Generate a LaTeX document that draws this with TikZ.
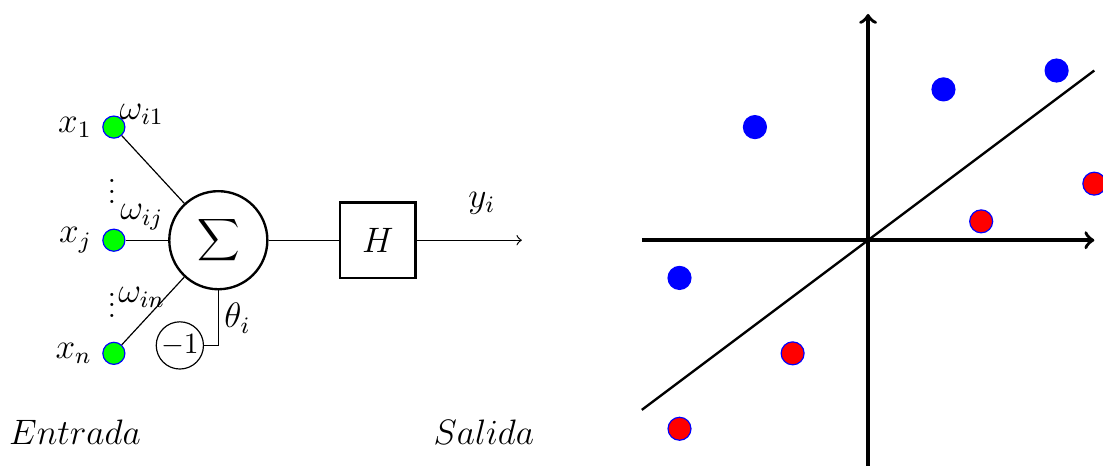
\documentclass[tikz,border=0pt]{standalone}
\usepackage{amsmath}
\usepackage{amssymb}
\usepackage{graphicx}
\usetikzlibrary{arrows,positioning}

\begin{document}
\begin{tikzpicture}[
    x=0.45cm, y=0.45cm,
    every node/.style={font=\large},
    inp/.style={circle, draw=blue, fill=green, minimum size=7.5pt, inner sep=0pt},
    pt_blue/.style={circle, draw=blue, fill=blue, minimum size=7.8pt, inner sep=0pt},
    pt_red/.style={circle, draw=blue, fill=red, minimum size=7.8pt, inner sep=0pt},
    sumnode/.style={circle, draw, thick, minimum size=33.3pt, inner sep=0pt, font=\normalsize},
    actbox/.style={rectangle, draw, thick, minimum size=25.5pt, inner sep=0pt},
    axis/.style={->, very thick},
    wire/.style={thin}
  ]
  \useasboundingbox (-23.02,-5.97) rectangle (6.23,6.37);

  % Inputs
  \node[inp] (x1) at (-20, 3) {};
  \node[inp] (xj) at (-20, 0) {};
  \node[inp] (xn) at (-20,-3) {};
  \node[left=0pt of x1] {$x_1$};
  \node[left=0pt of xj] {$x_j$};
  \node[left=0pt of xn] {$x_n$};
  \node (dots_a) at (-20.05, 1.5) {\scalebox{0.9}{$\vdots$}};
  \node (dots_b) at (-20.05,-1.51) {\scalebox{0.9}{$\vdots$}};

  % Weights
  \node (w_1) at (-19.26, 3.34) {$\omega_{i1}$};
  \node (w_j) at (-19.26, 0.61) {$\omega_{ij}$};
  \node (w_n) at (-19.26,-1.51) {$\omega_{in}$};

  % Summation, threshold and activation
  \node[sumnode] (sum) at (-17.23, 0) {$\displaystyle\sum$};
  \node[circle, draw, inner sep=0.5pt, font=\normalsize] (bias) at (-18.25,-2.79) {$-1$};
  \node (theta) at (-16.72,-2.07) {$\theta_i$};
  \node[actbox] (act) at (-13, 0) {$H$};
  \coordinate (yout) at (-9.18, 0);
  \node (ylab) at (-10.24, 0.98) {$y_i$};

  % Labels below
  \node (entrada) at (-21.03,-5.09) {$Entrada$};
  \node (salida) at (-10.19,-5.09) {$Salida$};

  % Connections
  \draw[wire] (x1) -- (sum);
  \draw[wire] (xj) -- (sum);
  \draw[wire] (xn) -- (sum);
  \draw[wire] (sum.south) -- (sum.south |- bias.east) -- (bias.east);
  \draw[wire] (sum) -- (act);
  \draw[wire, ->] (act) -- (yout);

  % Plane with separating line
  \draw[axis] (-6,0) -- (6,0);
  \draw[axis] (0,-6) -- (0,6);
  \draw[thick] (-6,-4.5) -- (6,4.5);

  % Samples
  \node[pt_blue] (b1) at (-3, 3) {};
  \node[pt_blue] (b2) at ( 2, 4) {};
  \node[pt_blue] (b3) at ( 5, 4.5) {};
  \node[pt_blue] (b4) at (-5,-1) {};
  \node[pt_red] (r1) at ( 3, 0.5) {};
  \node[pt_red] (r2) at ( 6, 1.5) {};
  \node[pt_red] (r3) at (-2,-3) {};
  \node[pt_red] (r4) at (-5,-5) {};

\end{tikzpicture}
\end{document}
